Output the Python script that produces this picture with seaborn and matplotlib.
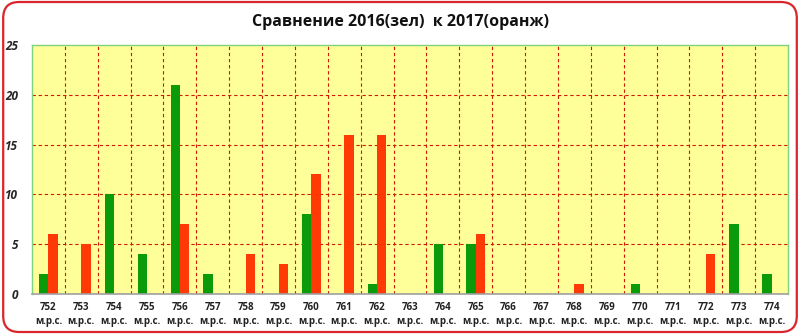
import matplotlib
matplotlib.use("Agg")
import matplotlib.pyplot as plt
from matplotlib.patches import FancyBboxPatch
import seaborn as sns
import pandas as pd

# Districts and counts per year
districts = ["752", "753", "754", "755", "756", "757", "758", "759", "760", "761", "762", "763",
             "764", "765", "766", "767", "768", "769", "770", "771", "772", "773", "774"]
counts_2016 = [2, 0, 10, 4, 21, 2, 0, 0, 8, 0, 1, 0, 5, 5, 0, 0, 0, 0, 1, 0, 0, 7, 2]
counts_2017 = [6, 5, 0, 0, 7, 0, 4, 3, 12, 16, 16, 0, 0, 6, 0, 0, 1, 0, 0, 0, 4, 0, 0]
years = ["2016", "2017"]
y_ticks = [0, 5, 10, 15, 20, 25]
title = "Сравнение 2016(зел)  к 2017(оранж)"
suffix = "м.р.с."

df = pd.DataFrame({
    "district": districts * 2,
    "year": [years[0]] * len(districts) + [years[1]] * len(districts),
    "count": counts_2016 + counts_2017,
})

sns.set_theme(style="white")
plt.rcParams["font.family"] = ["Open Sans", "DejaVu Sans"]

fig = plt.figure(figsize=(8, 3.34), dpi=100)
ax = fig.add_axes([0.04, 0.12, 0.945, 0.745])

sns.barplot(data=df, x="district", y="count", hue="year", order=districts,
            palette={"2016": "#0A9A0A", "2017": "#FF3A06"}, width=0.57,
            saturation=1, legend=False, ax=ax, edgecolor="none")

ax.set_facecolor("#FFFF99")
ax.set_ylim(0, 25)
ax.set_xlim(-0.5, len(districts) - 0.5)
ax.set_yticks(y_ticks)
ax.set_yticklabels([str(v) for v in y_ticks], fontsize=8.5, fontweight="bold", style="italic")
ax.set_xticks(range(len(districts)))
ax.set_xticklabels([f"{d}\n{suffix}" for d in districts], fontsize=7, fontweight="bold",
                   linespacing=1.45, color="#222222")
ax.tick_params(axis="x", length=0, pad=5.5)
ax.tick_params(axis="y", length=0, pad=10)
ax.set_xlabel("")
ax.set_ylabel("")

# dashed red grid between districts and at each y step
for xb in range(1, len(districts)):
    ax.axvline(xb - 0.5, color="#D01A00", lw=0.8, ls=(0, (3, 2.5)), zorder=0.5)
for yv in y_ticks[1:-1]:
    ax.axhline(yv, color="#D01A00", lw=0.8, ls=(0, (3, 2.5)), zorder=0.5)

for side in ["top", "right", "left"]:
    ax.spines[side].set_color("#7FD37F")
    ax.spines[side].set_linewidth(1.0)
ax.spines["bottom"].set_color("#A0A0A0")
ax.spines["bottom"].set_linewidth(1.2)

fig.text(0.5, 0.935, title, ha="center", va="center", fontsize=11.5, fontweight="bold",
         color="#111111")

frame = FancyBboxPatch((0.004, 0.006), 0.992, 0.988, transform=fig.transFigure,
                       boxstyle="round,pad=0,rounding_size=0.02", fill=False,
                       edgecolor="#D9252B", linewidth=1.6, mutation_aspect=2.4)
fig.patches.append(frame)

fig.savefig("out.png", dpi=100)
